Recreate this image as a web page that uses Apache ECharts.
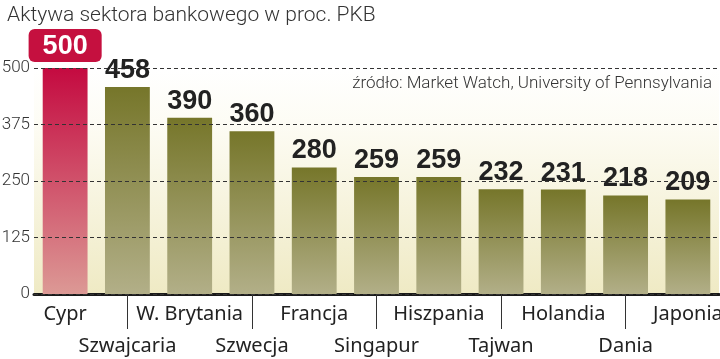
<!DOCTYPE html>
<html><head><meta charset="utf-8">
<script src="https://cdn.jsdelivr.net/npm/echarts@6/dist/echarts.min.js"></script>
<style>html,body{margin:0;padding:0;background:#fff}#c{width:720px;height:359px}</style>
</head><body><div id="c"></div>
<script>
const categories = ['Cypr','Szwajcaria','W. Brytania','Szwecja','Francja','Singapur','Hiszpania','Tajwan','Holandia','Dania','Japonia'];
const values = [500,458,390,360,280,259,259,232,231,218,209];
const yTicks = [0,125,250,375,500];
const highlightIndex = 0;

const G = echarts.graphic.LinearGradient;
const olive = new G(0,0,0,1,[{offset:0,color:'#76762a'},{offset:1,color:'#b2af88'}]);
const red = new G(0,0,0,1,[{offset:0,color:'#c40a40'},{offset:1,color:'#dc9995'}]);

const barData = values.map((v,i)=>({value:v,itemStyle:{color:i===highlightIndex?red:olive}}));
const labelData = values.map((v,i)=>{
  if(i===highlightIndex){
    return {value:v,label:{color:'#fff',backgroundColor:'#c5103f',borderRadius:6,padding:[4,14,2,14],distance:6}};
  }
  return {value:v};
});

const chart = echarts.init(document.getElementById('c'),null,{renderer:'canvas'});
chart.setOption({
  animation:false,
  title:[
    {text:'Aktywa sektora bankowego w proc. PKB',left:2,top:0,textStyle:{fontFamily:'Roboto',fontWeight:300,fontSize:21,color:'#333'}},
    {text:'źródło: Market Watch, University of Pennsylvania',right:3,top:70,textStyle:{fontFamily:'Roboto',fontWeight:300,fontSize:17,color:'#333'}}
  ],
  grid:{left:34,right:1,top:68,bottom:65,outerBoundsMode:'none',containLabel:false,show:true,borderWidth:0,
    backgroundColor:new G(0,0,0,1,[{offset:0,color:'#ffffff'},{offset:0.25,color:'#fdfcf4'},{offset:1,color:'#efeac4'}])},
  xAxis:{type:'category',data:categories,
    axisLine:{lineStyle:{color:'#1a1a1a',width:3}},
    axisTick:{show:true,alignWithLabel:true,length:35,interval:(i)=>i%2===1,lineStyle:{color:'#333',width:1}},
    axisLabel:{interval:0,margin:4,fontFamily:'Noto Sans',fontSize:20,color:'#222',lineHeight:32,
      formatter:(v,i)=> i%2===1 ? '\n'+v : v}
  },
  yAxis:{type:'value',min:yTicks[0],max:yTicks[yTicks.length-1],interval:125,z:3,
    axisLine:{show:false},axisTick:{show:false},
    axisLabel:{margin:4,fontFamily:'Roboto',fontWeight:300,fontSize:17,color:'#333'},
    splitLine:{lineStyle:{color:'#333',type:[4,3],width:1.2}}
  },
  series:[
    {type:'bar',data:barData,barWidth:'72%',z:2},
    {type:'bar',data:labelData,barWidth:'72%',barGap:'-100%',z:4,silent:true,
     itemStyle:{color:'rgba(0,0,0,0)'},
     label:{show:true,position:'top',distance:3,fontFamily:'Liberation Sans',fontWeight:'bold',fontSize:27,color:'#222'}}
  ]
});
</script></body></html>
